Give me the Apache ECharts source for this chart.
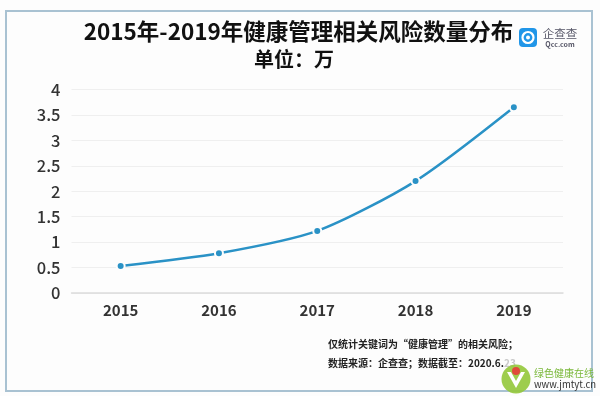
<!DOCTYPE html>
<html><head><meta charset="utf-8">
<script src="https://cdn.jsdelivr.net/npm/echarts@6/dist/echarts.min.js"></script>
<style>html,body{margin:0;padding:0;background:#fff}#c{width:600px;height:396px}</style>
</head><body><div id="c"></div>
<script>
const categories = ['2015','2016','2017','2018','2019'];
const values = [0.53, 0.78, 1.22, 2.2, 3.65];
const yTicks = [0, 0.5, 1, 1.5, 2, 2.5, 3, 3.5, 4];
const titleText = '2015年-2019年健康管理相关风险数量分布';
const unitText = '单位：万';
const note1 = '仅统计关键词为“健康管理”的相关风险；';
const note2a = '数据来源：企查查；数据截至：2020.6.';
const note2b = '23';

const chart = echarts.init(document.getElementById('c'));
const font = '"Noto Sans CJK SC", "Noto Sans", sans-serif';
chart.setOption({
  backgroundColor: '#fdfdfd',
  animation: false,
  grid: {left: 71.5, right: 37, top: 89.5, bottom: 103},
  xAxis: {
    type: 'category', data: categories, boundaryGap: true,
    axisLine: {lineStyle: {color: '#dcdcdc', width: 1.5}},
    axisTick: {show: false},
    axisLabel: {color: '#333', fontSize: 15, fontWeight: 'bold', fontFamily: font, margin: 10}
  },
  yAxis: {
    type: 'value', min: yTicks[0], max: yTicks[yTicks.length-1], interval: yTicks[1]-yTicks[0],
    axisLine: {show: false}, axisTick: {show: false},
    splitLine: {lineStyle: {color: '#efefef', width: 1}},
    axisLabel: {color: '#333', fontSize: 16.5, fontWeight: 500, fontFamily: font, margin: 11}
  },
  series: [{
    type: 'line', data: values, smooth: 0.25,
    symbol: 'circle', symbolSize: 8,
    lineStyle: {color: '#2a92c6', width: 2.5},
    itemStyle: {color: '#2a92c6', borderColor: '#fdfdfd', borderWidth: 2}
  }],
  graphic: [
    {type: 'rect', shape: {x: 6, y: 11, width: 586, height: 380}, style: {fill: 'none', stroke: '#a9c2d2', lineWidth: 2}, z: 10},
    {type: 'text', x: 298.5, y: 31.5, style: {text: titleText, font: 'bold 22.5px ' + font, fill: '#111', align: 'center', verticalAlign: 'middle'}},
    {type: 'text', x: 294, y: 59, style: {text: unitText, font: 'bold 20px ' + font, fill: '#111', align: 'center', verticalAlign: 'middle'}},
    {type: 'rect', shape: {x: 519, y: 28, width: 18, height: 19, r: 4}, style: {fill: '#2196e8'}},
    {type: 'circle', shape: {cx: 528, cy: 37.5, r: 5.5}, style: {fill: 'none', stroke: '#fff', lineWidth: 2.2}},
    {type: 'circle', shape: {cx: 528, cy: 37.5, r: 2}, style: {fill: '#fff'}},
    {type: 'text', x: 560, y: 34, style: {text: '企查查', font: '11.5px ' + font, fill: '#556', align: 'center', verticalAlign: 'middle'}},
    {type: 'text', x: 560, y: 44.5, style: {text: 'Qcc.com', font: 'bold 7px ' + font, fill: '#556', align: 'center', verticalAlign: 'middle'}},
    {type: 'text', x: 328, y: 344, style: {text: note1, font: 'bold 10px ' + font, fill: '#222', verticalAlign: 'middle'}},
    {type: 'text', x: 328, y: 363, style: {
      text: '{a|' + note2a + '}{b|' + note2b + '}',
      verticalAlign: 'middle',
      rich: {a: {font: 'bold 10px ' + font, fill: '#222'}, b: {font: 'bold 10px ' + font, fill: '#c8c8c8'}}
    }},
    {type: 'circle', shape: {cx: 516, cy: 379, r: 14.5}, style: {fill: '#93c83a', opacity: 0.9}, z: 11},
    {type: 'polygon', shape: {points: [[507, 372], [516, 388], [525, 372], [521, 372], [516, 381], [511, 372]]}, style: {fill: '#fff'}, z: 12},
    {type: 'circle', shape: {cx: 516, cy: 371, r: 4}, style: {fill: '#e04a3a'}, z: 13},
    {type: 'text', x: 534, y: 373, style: {text: '绿色健康在线', font: '10px ' + font, fill: '#7ab83a', verticalAlign: 'middle'}, z: 12},
    {type: 'text', x: 534, y: 384, style: {text: 'www.jmtyt.cn', font: '9.5px ' + font, fill: '#333', verticalAlign: 'middle'}, z: 12}
  ]
});
</script></body></html>
